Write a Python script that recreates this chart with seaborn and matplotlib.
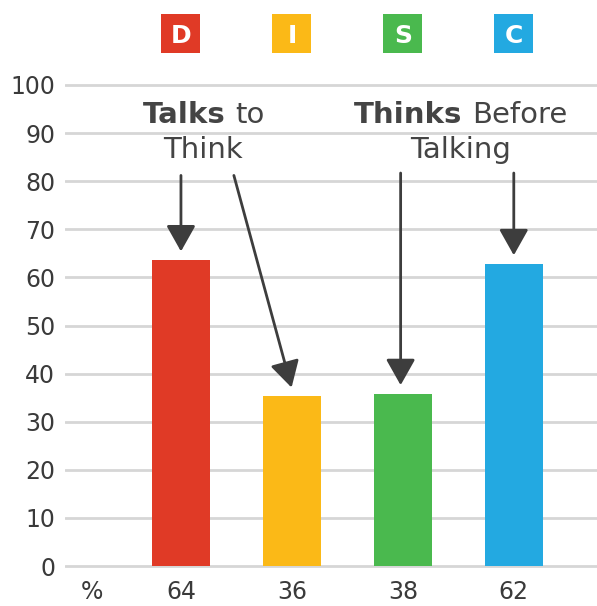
import matplotlib
matplotlib.use("Agg")
import matplotlib.pyplot as plt
import seaborn as sns
from matplotlib.patches import Rectangle
from matplotlib.offsetbox import TextArea, HPacker, AnnotationBbox

# ---- data ----
categories = ["D", "I", "S", "C"]
values = [63.6, 35.3, 35.8, 62.8]          # bar heights
value_labels = ["64", "36", "38", "62"]     # printed labels under bars
colors = ["#E03A26", "#FBB917", "#4AB94E", "#23A9E1"]
yticks = [0, 10, 20, 30, 40, 50, 60, 70, 80, 90, 100]

sns.set_theme(style="white")
plt.rcParams["font.family"] = ["DejaVu Sans"]

TXT = "#3a3a3a"
ARW = "#3d3d3d"

fig = plt.figure(figsize=(5.97, 6.06), dpi=100)
ax = fig.add_axes([0.1089, 0.0612, 0.8911, 0.8033])

sns.barplot(x=categories, y=values, hue=categories, palette=colors,
            order=categories, hue_order=categories, legend=False,
            width=0.52, saturation=1, linewidth=0, edgecolor="none",
            ax=ax, zorder=3)

ax.set_xlim(-1.045, 3.75)
ax.set_ylim(-0.6, 100.6)
ax.set_yticks(yticks)
ax.set_yticklabels([str(t) for t in yticks], fontsize=17, color=TXT)
ax.yaxis.grid(True, color="#d6d6d6", lw=2.0, zorder=0)
ax.set_axisbelow(True)
ax.tick_params(axis="y", length=0, pad=7)
ax.set_xticks([-0.8, 0, 1, 2, 3])
ax.set_xticklabels(["%"] + value_labels, fontsize=17, color=TXT)
ax.tick_params(axis="x", length=0, pad=8)
ax.set_xlabel("")
ax.set_ylabel("")
for s in ax.spines.values():
    s.set_visible(False)

# ---- DISC letter boxes on top ----
bw, bh = 0.351, 8.1
for i, (c, col) in enumerate(zip(categories, colors)):
    ax.add_patch(Rectangle((i - bw / 2, 110.7 - bh / 2), bw, bh,
                           facecolor=col, edgecolor="none", clip_on=False))
    ax.text(i, 110.7, c, color="white", fontsize=18, fontweight="bold",
            ha="center", va="center_baseline", clip_on=False)

# ---- annotation texts ----
def two_part(x, y, bold, regular):
    box = HPacker(children=[
        TextArea(bold, textprops=dict(fontsize=21, fontweight="bold", color="#444444")),
        TextArea(regular, textprops=dict(fontsize=21, color="#444444")),
    ], align="baseline", pad=0, sep=7)
    ab = AnnotationBbox(box, (x, y), xycoords="data", frameon=False,
                        box_alignment=(0.5, 0.5), annotation_clip=False)
    ax.add_artist(ab)

two_part(0.203, 93.8, "Talks", "to")
ax.text(0.203, 86.5, "Think", fontsize=21, color="#444444", ha="center", va="center")
two_part(2.52, 93.8, "Thinks", "Before")
ax.text(2.52, 86.5, "Talking", fontsize=21, color="#444444", ha="center", va="center")

# ---- arrows ----
arrow_tails = [(0.0, 81.2), (0.477, 81.2), (1.98, 81.7), (3.0, 81.7)]
arrow_tip_x = [0.0, 0.997, 1.98, 3.0]
for (tx, ty), hx, v in zip(arrow_tails, arrow_tip_x, values):
    ax.annotate("", xy=(hx, v + 1.8), xytext=(tx, ty),
                arrowprops=dict(arrowstyle="-|>,head_length=16,head_width=9",
                                mutation_scale=1, color=ARW, lw=2.0,
                                shrinkA=0, shrinkB=0), zorder=5)

fig.savefig("out.png", dpi=100)
